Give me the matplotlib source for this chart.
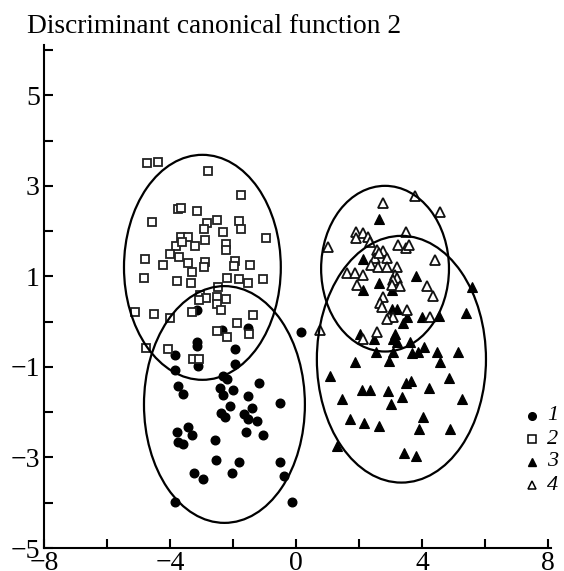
import matplotlib
matplotlib.use("Agg")
import matplotlib.pyplot as plt
from matplotlib.patches import Ellipse
from matplotlib.lines import Line2D

# ---------------- data ----------------
g1_x = [-3.15, -2.36, -1.53, -3.15, -3.13, -1.94, -3.84, -3.10, -1.94, -3.84,
        -2.31, -2.20, -3.74, -3.60, -2.41, -2.33, -1.99, -1.17, -1.51, -0.51,
        -2.10, -1.41, -1.65, -1.51, -1.25, -2.39, -2.25, -3.42, -3.31, -3.79,
        -3.74, -3.60, -1.57, -1.04, -2.57, -2.55, -1.80, -0.51, -3.24, -2.96,
        -2.02, -0.38, -3.84, -0.13, 0.16]
g1_y = [0.26, -0.18, -0.13, -0.44, -0.53, -0.61, -0.74, -0.99, -0.93, -1.06,
        -1.20, -1.27, -1.42, -1.60, -1.47, -1.62, -1.52, -1.36, -1.65, -1.80,
        -1.86, -1.91, -2.04, -2.15, -2.19, -2.02, -2.11, -2.33, -2.51, -2.44,
        -2.66, -2.70, -2.43, -2.51, -2.61, -3.05, -3.11, -3.11, -3.34, -3.47,
        -3.34, -3.40, -3.98, -3.98, -0.23]

g2_x = [-4.72, -4.37, -2.80, -1.76, -3.74, -3.66, -3.15, -4.57, -2.83, -2.52,
        -2.92, -2.33, -1.82, -1.75, -0.96, -3.66, -3.44, -3.81, -3.62, -3.20,
        -2.89, -2.23, -2.23, -4.00, -3.72, -4.80, -4.21, -3.42, -2.88, -2.92,
        -1.95, -1.96, -1.46, -3.31, -4.83, -3.79, -3.34, -2.20, -1.80, -1.53,
        -1.05, -2.49, -3.05, -2.86, -2.50, -2.22, -3.07, -2.52, -2.38, -5.11,
        -4.51, -4.00, -3.31, -1.36, -1.88, -1.49, -2.52, -2.20, -4.76, -4.05,
        -3.28, -3.07]
g2_y = [3.50, 3.53, 3.33, 2.79, 2.49, 2.52, 2.45, 2.20, 2.17, 2.25,
        2.05, 1.98, 2.23, 2.04, 1.85, 1.87, 1.88, 1.67, 1.75, 1.67,
        1.81, 1.72, 1.58, 1.49, 1.42, 1.39, 1.25, 1.30, 1.32, 1.20,
        1.33, 1.22, 1.25, 1.09, 0.97, 0.89, 0.85, 0.97, 0.94, 0.86,
        0.95, 0.77, 0.59, 0.52, 0.55, 0.50, 0.47, 0.39, 0.26, 0.22,
        0.17, 0.07, 0.22, 0.15, -0.02, -0.27, -0.20, -0.34, -0.59, -0.60,
        -0.82, -0.82]

g3_x = [2.64, 2.12, 2.12, 2.64, 3.04, 3.81, 5.58, 3.04, 3.20, 3.53,
        3.41, 3.99, 4.55, 5.40, 2.03, 2.48, 3.14, 3.09, 3.22, 3.62,
        2.54, 3.07, 3.70, 3.88, 4.07, 4.47, 5.15, 1.87, 2.96, 4.59,
        1.08, 3.51, 3.64, 4.87, 2.09, 2.35, 2.93, 4.23, 3.36, 3.02,
        1.45, 5.26, 1.71, 2.17, 2.63, 4.04, 3.90, 4.89, 1.29, 3.43,
        3.80]
g3_y = [2.26, 1.38, 0.70, 0.86, 0.69, 1.01, 0.77, 0.28, 0.28, 0.11,
        -0.03, 0.11, 0.13, 0.19, -0.27, -0.39, -0.27, -0.39, -0.46, -0.46,
        -0.66, -0.68, -0.70, -0.66, -0.55, -0.66, -0.68, -0.89, -0.86, -0.90,
        -1.20, -1.36, -1.32, -1.25, -1.52, -1.52, -1.54, -1.47, -1.67, -1.81,
        -1.71, -1.71, -2.15, -2.23, -2.30, -2.11, -2.37, -2.37, -2.74, -2.90,
        -2.96]

g4_x = [2.77, 3.78, 4.57, 1.90, 2.14, 1.90, 2.30, 2.35, 1.03, 3.51,
        3.25, 3.49, 3.60, 2.58, 2.77, 2.90, 2.51, 2.65, 2.37, 2.61,
        2.90, 3.20, 4.41, 1.61, 1.87, 2.14, 3.14, 3.22, 1.93, 3.09,
        3.04, 3.30, 4.17, 4.34, 2.75, 2.67, 2.72, 3.53, 2.96, 3.09,
        2.90, 4.25, 0.78, 2.14, 2.58]
g4_y = [2.63, 2.78, 2.43, 1.99, 1.95, 1.84, 1.87, 1.75, 1.66, 1.99,
        1.70, 1.62, 1.70, 1.58, 1.55, 1.40, 1.40, 1.51, 1.25, 1.20,
        1.20, 1.20, 1.36, 1.07, 1.07, 1.03, 1.03, 0.96, 0.81, 0.92,
        0.81, 0.79, 0.79, 0.57, 0.55, 0.41, 0.32, 0.25, 0.11, 0.11,
        0.06, 0.11, -0.18, -0.39, -0.22]

# confidence ellipses: centre x, centre y, width, height
ell_cx = [-2.27, -2.97, 3.35, 2.83]
ell_cy = [-1.83, 1.20, -0.83, 1.17]
ell_w = [5.11, 4.98, 5.37, 4.06]
ell_h = [5.23, 4.97, 5.45, 3.66]

group_labels = ["1", "2", "3", "4"]
title_text = "Discriminant canonical function 2"
xticks = [-8, -6, -4, -2, 0, 2, 4, 6, 8]
xtick_labels = ["\u22128", "", "\u22124", "", "0", "", "4", "", "8"]
yticks = [-5, -4, -3, -2, -1, 0, 1, 2, 3, 4, 5, 6]
ytick_labels = ["\u22125", "", "\u22123", "", "\u22121", "", "1", "", "3", "", "5", ""]

# ---------------- figure ----------------
plt.rcParams["font.family"] = ["Liberation Serif", "DejaVu Serif"]
plt.rcParams["mathtext.fontset"] = "stix"

W, H = 564, 571
fig = plt.figure(figsize=(W / 100, H / 100), dpi=100)
ax = fig.add_axes([44 / W, 1 - 548 / H, (551 - 44) / W, (548 - 44.6) / H])

ax.set_xlim(-8, 8.1)
ax.set_ylim(-5, 6.12)

for s in ["top", "right"]:
    ax.spines[s].set_visible(False)
for s in ["left", "bottom"]:
    ax.spines[s].set_linewidth(1.5)

ax.set_xticks(xticks)
ax.set_xticklabels(xtick_labels)
ax.set_yticks(yticks)
ax.set_yticklabels(ytick_labels)
ax.tick_params(direction="in", length=6.5, width=1.5, labelsize=20, pad=3)
ax.tick_params(axis="x", pad=2)

lw = 1.3
ax.plot(g1_x, g1_y, linestyle="none", marker="o", ms=6.2, mfc="black",
        mec="black", clip_on=False, zorder=3)
ax.plot(g2_x, g2_y, linestyle="none", marker="s", ms=5.8, mfc="white",
        mec="#222222", mew=lw, clip_on=False, zorder=3)
ax.plot(g3_x, g3_y, linestyle="none", marker="^", ms=6.8, mfc="black",
        mec="black", mew=0.8, clip_on=False, zorder=3)
ax.plot(g4_x, g4_y, linestyle="none", marker="^", ms=6.8, mfc="white",
        mec="#111111", mew=lw, clip_on=False, zorder=3)

for cx, cy, w, h in zip(ell_cx, ell_cy, ell_w, ell_h):
    ax.add_patch(Ellipse((cx, cy), w, h, fill=False, edgecolor="black",
                         linewidth=1.6, zorder=4))

fig.text(27 / W, 1 - 33 / H, title_text, fontsize=19.8, va="baseline",
         ha="left", color="black")

# legend (manual, in figure coordinates)
leg_styles = [
    dict(marker="o", ms=5.5, mfc="black", mec="black"),
    dict(marker="s", ms=5.2, mfc="white", mec="black", mew=1.1),
    dict(marker="^", ms=6.0, mfc="black", mec="black"),
    dict(marker="^", ms=6.0, mfc="white", mec="black", mew=1.1),
]
leg_y = [416, 439, 462, 485]
for st, lab, yy in zip(leg_styles, group_labels, leg_y):
    fig.add_artist(Line2D([532 / W], [1 - yy / H], linestyle="none",
                          transform=fig.transFigure, **st))
    fig.text(547 / W, 1 - yy / H, lab, fontsize=16, style="italic",
             va="center", ha="left")

fig.savefig("out.png", dpi=100)
